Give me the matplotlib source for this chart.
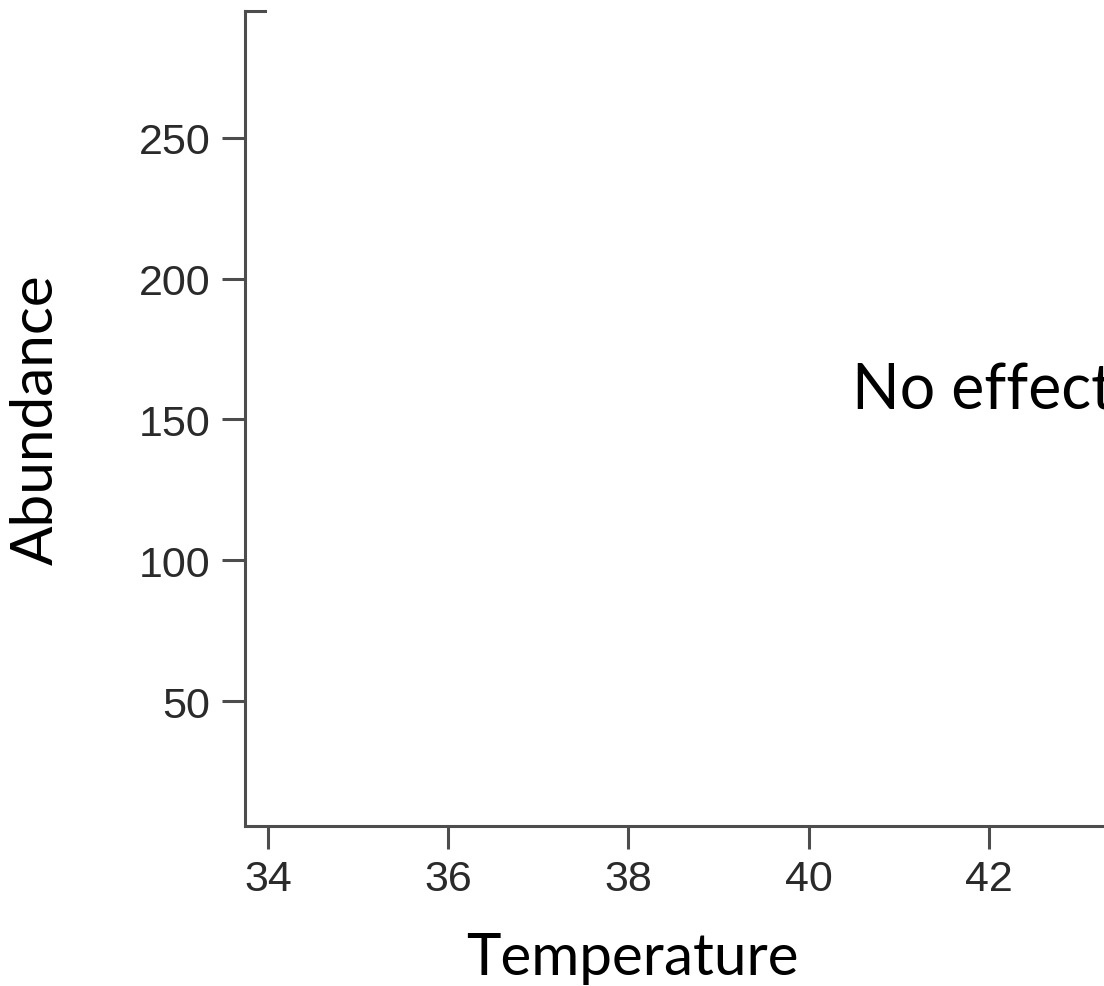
import matplotlib
matplotlib.use("Agg")
import matplotlib.pyplot as plt

# axis setup (empty plot)
x_ticks = [34, 36, 38, 40, 42]
y_ticks = [50, 100, 150, 200, 250]
x_limits = (33.745, 43.276)
y_limits = (5.6, 295.1)
note_text = "No effect"
note_pos = (40.48, 154)

fig = plt.figure(figsize=(11.04, 9.87), dpi=100)
ax = fig.add_axes([245 / 1104, 1 - 827 / 987, 1 - 245 / 1104, (827 - 12) / 987])

ax.set_xlim(*x_limits)
ax.set_ylim(*y_limits)
ax.set_xticks(x_ticks)
ax.set_yticks(y_ticks)

spine_col = "#4d4d4d"
for side in ["left", "bottom", "top"]:
    ax.spines[side].set_color(spine_col)
    ax.spines[side].set_linewidth(2.2)
ax.spines["right"].set_visible(False)
# only a short stub of the top frame shows in the reference
ax.spines["top"].set_bounds(x_limits[0], x_limits[0] + 0.22)

ax.tick_params(axis="both", length=16.5, width=2.2, color=spine_col,
               labelsize=31, labelcolor="#2a2a2a")
ax.tick_params(axis="x", pad=7)
ax.tick_params(axis="y", pad=8.5)
for lab in ax.get_xticklabels() + ax.get_yticklabels():
    lab.set_fontfamily("Liberation Sans")

ax.text(note_pos[0], note_pos[1], note_text, fontsize=45, family="Lato",
        va="baseline", ha="left", color="black", clip_on=False)

fig.text(53 / 1104, 1 - 420 / 987, "Abundance", rotation=90, fontsize=42,
         family="Lato", ha="center", va="baseline", rotation_mode="anchor")
fig.text(632 / 1104, 1 - 975 / 987, "Temperature", fontsize=42,
         family="Lato", ha="center", va="baseline")

fig.savefig("out.png", dpi=100)
